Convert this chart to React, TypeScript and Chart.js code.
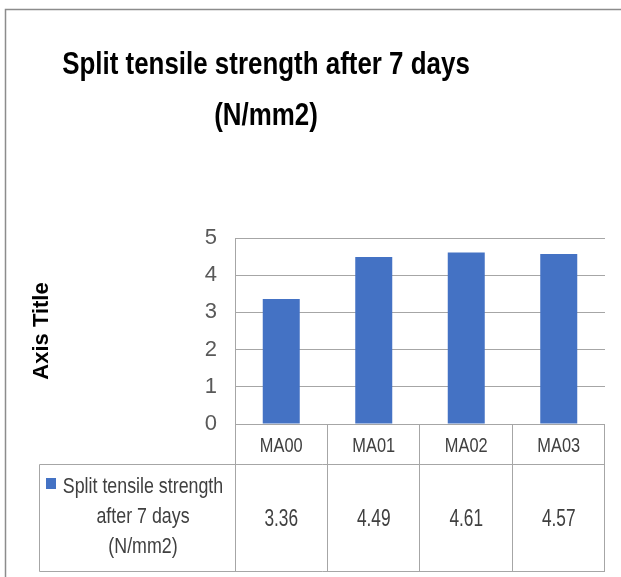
import React, { useEffect, useRef } from "react";
import { Chart, registerables } from "chart.js";

Chart.register(...registerables);

const categories = ["MA00", "MA01", "MA02", "MA03"];
const seriesName = "Split tensile strength after 7 days (N/mm2)";
const seriesLines = ["Split tensile strength", "after 7 days", "(N/mm2)"];
const values = [3.36, 4.49, 4.61, 4.57];
const valueLabels = ["3.36", "4.49", "4.61", "4.57"];
const titleLines = ["Split tensile strength after 7 days", "(N/mm2)"];
const yAxisTitle = "Axis Title";

const SANS = "'Liberation Sans', Arial, sans-serif";
const BAR = "#4472C4";
const GRID = "#a6a6a6";
const TEXT = "#404040";

function drawText(
  ctx: CanvasRenderingContext2D,
  text: string,
  x: number,
  y: number,
  size: number,
  bold: boolean,
  sx: number,
  baseline: CanvasTextBaseline
) {
  ctx.save();
  ctx.translate(x, y);
  ctx.scale(sx, 1);
  ctx.font = `${bold ? "bold " : ""}${size}px ${SANS}`;
  ctx.textAlign = "center";
  ctx.textBaseline = baseline;
  ctx.fillText(text, 0, 0);
  ctx.restore();
}

const tablePlugin = {
  id: "tablePlugin",
  afterDraw(chart: any) {
    const ctx = chart.ctx as CanvasRenderingContext2D;
    const area = chart.chartArea;
    const xs = chart.scales.x;
    const labels: string[] = chart.data.labels;
    const n = labels.length;
    const rowTop = area.bottom;
    const rowMid = 464.5;
    const rowBottom = 571.5;
    const legendLeft = 39.5;

    ctx.save();
    // outer frame
    ctx.strokeStyle = "#8c8c8c";
    ctx.lineWidth = 1.5;
    ctx.beginPath();
    ctx.moveTo(5.5, 577);
    ctx.lineTo(5.5, 9.5);
    ctx.lineTo(621, 9.5);
    ctx.stroke();

    // table lines
    ctx.strokeStyle = GRID;
    ctx.lineWidth = 1;
    ctx.beginPath();
    const left = Math.round(area.left) + 0.5;
    ctx.moveTo(left, area.top);
    ctx.lineTo(left, rowBottom);
    for (let i = 0; i < n; i++) {
      const b =
        i < n - 1
          ? (xs.getPixelForValue(i) + xs.getPixelForValue(i + 1)) / 2
          : area.right;
      const bx = Math.round(b) - 0.5;
      ctx.moveTo(bx, rowTop);
      ctx.lineTo(bx, rowBottom);
    }
    ctx.moveTo(legendLeft, rowMid);
    ctx.lineTo(area.right, rowMid);
    ctx.moveTo(legendLeft, rowBottom);
    ctx.lineTo(area.right, rowBottom);
    ctx.moveTo(legendLeft, rowMid);
    ctx.lineTo(legendLeft, rowBottom);
    ctx.stroke();

    // category labels and data values
    ctx.fillStyle = TEXT;
    for (let i = 0; i < n; i++) {
      const cx = xs.getPixelForValue(i);
      drawText(ctx, labels[i], cx, 452, 21, false, 0.78, "alphabetic");
      drawText(ctx, valueLabels[i], cx, 526, 24, false, 0.72, "alphabetic");
    }

    // legend key
    ctx.fillStyle = BAR;
    ctx.fillRect(46, 478, 10, 11);
    ctx.fillStyle = TEXT;
    const baselines = [493, 523, 553];
    seriesLines.forEach((t, i) => drawText(ctx, t, 143, baselines[i], 22, false, 0.81, "alphabetic"));

    // chart title
    ctx.fillStyle = "#000000";
    drawText(ctx, titleLines[0], 266, 74, 32, true, 0.81, "alphabetic");
    drawText(ctx, titleLines[1], 266, 125, 32, true, 0.81, "alphabetic");
    ctx.restore();
  },
};

export default function App() {
  const ref = useRef<HTMLCanvasElement | null>(null);
  useEffect(() => {
    if (!ref.current) return;
    const chart = new Chart(ref.current, {
      type: "bar",
      data: {
        labels: categories,
        datasets: [
          {
            label: seriesName,
            data: values,
            backgroundColor: BAR,
            borderWidth: 0,
            categoryPercentage: 1,
            barPercentage: 0.4,
          },
        ],
      },
      options: {
        responsive: false,
        animation: false,
        layout: { padding: { left: 29, top: 238, right: 16, bottom: 0 } },
        plugins: {
          legend: { display: false },
          title: { display: false },
          tooltip: { enabled: false },
        },
        scales: {
          x: {
            grid: { display: false, drawTicks: false },
            border: { display: false },
            ticks: { display: false },
            afterFit: (s: any) => {
              s.height = 153;
            },
          },
          y: {
            min: 0,
            max: 5,
            grid: { color: GRID, drawTicks: false },
            border: { display: false },
            ticks: {
              stepSize: 1,
              color: "#595959",
              font: { family: SANS, size: 22 },
              padding: 18,
            },
            title: {
              display: true,
              text: yAxisTitle,
              color: "#000000",
              font: { family: SANS, size: 22, weight: "bold" },
              padding: 0,
            },
            afterFit: (s: any) => {
              s.width = 206;
            },
          },
        },
      },
      plugins: [tablePlugin],
    });
    return () => chart.destroy();
  }, []);
  return (
    <div style={{ position: "absolute", left: 0, top: 0, width: 621, height: 577, background: "#fff" }}>
      <canvas ref={ref} width={621} height={577} style={{ display: "block" }} />
    </div>
  );
}
